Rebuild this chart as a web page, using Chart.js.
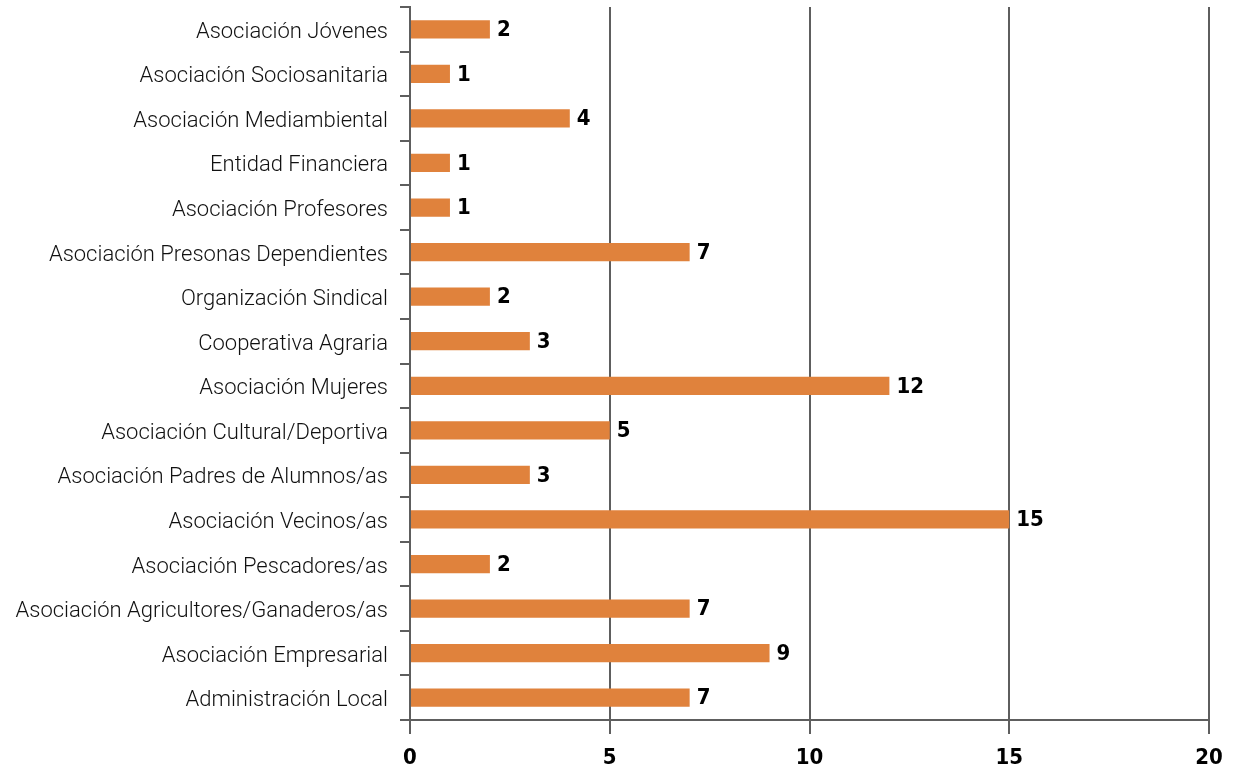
<!DOCTYPE html>
<html>
<head>
<meta charset="utf-8">
<script src="https://cdn.jsdelivr.net/npm/chart.js@4.4.0/dist/chart.umd.js"></script>
<style>
  html, body { margin: 0; padding: 0; background: #ffffff; }
  #wrap { width: 1236px; height: 767px; }
</style>
</head>
<body>
<div id="wrap"><canvas id="entidadesChart"></canvas></div>
<script>
// Datos del gráfico (de arriba hacia abajo)
const categories = [
    'Asociación Jóvenes',
    'Asociación Sociosanitaria',
    'Asociación Mediambiental',
    'Entidad Financiera',
    'Asociación Profesores',
    'Asociación Presonas Dependientes',
    'Organización Sindical',
    'Cooperativa Agraria',
    'Asociación Mujeres',
    'Asociación Cultural/Deportiva',
    'Asociación Padres de Alumnos/as',
    'Asociación Vecinos/as',
    'Asociación Pescadores/as',
    'Asociación Agricultores/Ganaderos/as',
    'Asociación Empresarial',
    'Administración Local'
];
const counts = [2, 1, 4, 1, 1, 7, 2, 3, 12, 5, 3, 15, 2, 7, 9, 7];
const xTicks = [0, 5, 10, 15, 20];

const BAR_COLOR = '#E0823C';
const AXIS_COLOR = '#5e5e5e';
const BOLD_FONT = "'Liberation Sans Narrow', 'DejaVu Sans Condensed', 'Liberation Sans', Arial, sans-serif";
const LIGHT_FONT = "Roboto, 'Liberation Sans', Arial, sans-serif";

// pinta el valor al final de cada barra
const valueLabels = {
    id: 'valueLabels',
    afterDatasetsDraw(chart) {
        const ctx = chart.ctx;
        const meta = chart.getDatasetMeta(0);
        ctx.save();
        ctx.fillStyle = '#000';
        ctx.font = "bold 22px " + BOLD_FONT;
        ctx.textBaseline = 'middle';
        ctx.textAlign = 'left';
        meta.data.forEach(function(bar, i) {
            ctx.fillText(String(counts[i]), bar.x + 7, bar.y + 1);
        });
        ctx.restore();
    }
};

const ctx = document.getElementById('entidadesChart').getContext('2d');
new Chart(ctx, {
    type: 'bar',
    data: {
        labels: categories,
        datasets: [{
            data: counts,
            backgroundColor: BAR_COLOR,
            borderWidth: 0,
            barPercentage: 0.41,
            categoryPercentage: 1
        }]
    },
    plugins: [valueLabels],
    options: {
        indexAxis: 'y',
        responsive: true,
        maintainAspectRatio: false,
        animation: false,
        layout: { padding: { top: 7, right: 27, left: 0, bottom: 0 } },
        plugins: {
            legend: { display: false },
            tooltip: { enabled: false }
        },
        scales: {
            x: {
                min: 0,
                max: 20,
                afterBuildTicks: function(scale) {
                    scale.ticks = xTicks.map(function(v) { return { value: v }; });
                },
                afterFit: function(scale) {
                    scale.height = 47;
                    scale.paddingLeft = 0;
                    scale.paddingRight = 0;
                },
                grid: {
                    color: function(c) { return c.tick && c.tick.value === 0 ? 'rgba(0,0,0,0)' : AXIS_COLOR; },
                    tickColor: AXIS_COLOR,
                    lineWidth: 2,
                    tickLength: 14,
                    drawOnChartArea: true
                },
                border: { color: AXIS_COLOR, width: 2 },
                ticks: {
                    color: '#000',
                    padding: 11,
                    maxRotation: 0,
                    font: { family: BOLD_FONT, size: 22, weight: 'bold' }
                }
            },
            y: {
                afterFit: function(scale) {
                    scale.width = 410;
                    scale.paddingTop = 0;
                    scale.paddingBottom = 0;
                },
                grid: {
                    offset: true,
                    drawOnChartArea: false,
                    color: AXIS_COLOR,
                    lineWidth: 2,
                    tickLength: 10
                },
                border: { color: AXIS_COLOR, width: 2 },
                ticks: {
                    color: '#111',
                    padding: 12,
                    labelOffset: 3,
                    font: { family: LIGHT_FONT, size: 22, weight: '300' }
                }
            }
        }
    }
});
</script>
</body>
</html>
